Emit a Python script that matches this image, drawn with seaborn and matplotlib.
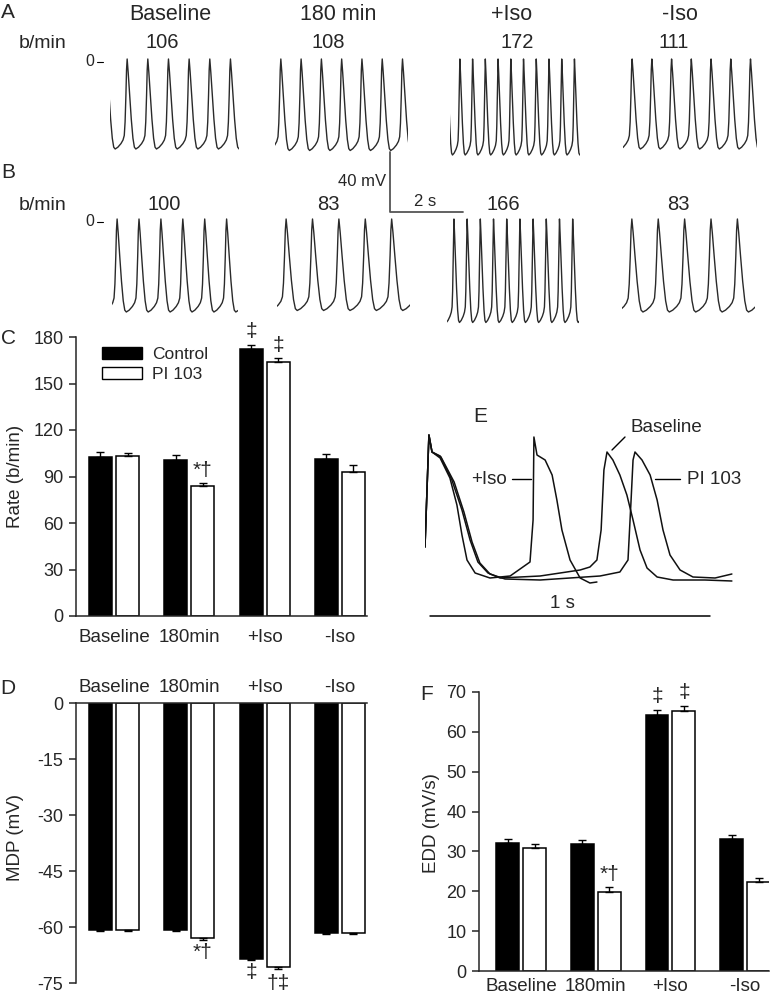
import numpy as np
import pandas as pd
import seaborn as sns
import matplotlib.pyplot as plt
from matplotlib.patches import Patch

# ---- data -------------------------------------------------------------
conditions = ["Baseline", "180min", "+Iso", "-Iso"]
groups = ["Control", "PI 103"]

# C: beating rate (b/min)
rate_ctrl = [102.7, 100.5, 172.2, 101.4]
rate_pi = [103.1, 84.0, 163.7, 93.0]
rate_ctrl_err = [3.2, 3.5, 2.4, 3.4]
rate_pi_err = [2.1, 2.0, 3.0, 4.3]

# D: maximum diastolic potential (mV)
mdp_ctrl = [-60.7, -60.9, -68.5, -61.6]
mdp_pi = [-60.7, -63.0, -70.7, -61.6]
mdp_ctrl_err = [0.3, 0.2, 0.3, 0.2]
mdp_pi_err = [0.3, 0.4, 0.6, 0.2]

# F: early diastolic depolarization (mV/s)
edd_ctrl = [32.1, 31.9, 64.2, 33.2]
edd_pi = [30.8, 19.7, 65.2, 22.3]
edd_ctrl_err = [1.1, 0.9, 1.2, 1.0]
edd_pi_err = [1.1, 1.5, 1.3, 1.0]

# A / B: spontaneous AP trains
trace_titles = ["Baseline", "180 min", "+Iso", "-Iso"]
rates_a = [106, 108, 172, 111]
rates_b = [100, 83, 166, 83]
mdp_a = [-58, -59, -62, -58]
mdp_b = [-60, -59, -67, -60]
dur_a = [3.53, 3.64, 3.56, 3.67]
dur_b = [3.45, 3.64, 3.62, 3.64]
first_peak_a = [0.47, 0.16, 0.27, 0.25]
first_peak_b = [0.14, 0.25, 0.19, 0.27]
# one AP cycle (phase from peak, 1 = peak, 0 = MDP)
ap_phase = [0.0, 0.05, 0.12, 0.2, 0.28, 0.35, 0.42, 0.55, 0.7, 0.8, 0.86, 0.9, 0.94, 0.97, 1.0]
ap_level = [1.0, 0.85, 0.6, 0.33, 0.12, 0.02, 0.0, 0.02, 0.06, 0.1, 0.15, 0.3, 0.6, 0.88, 1.0]
ap_peak = 2

# E: superimposed single APs (s, mV)
iso_t = [0.0, 0.014, 0.025, 0.054, 0.089, 0.114, 0.132, 0.15, 0.179, 0.232, 0.304, 0.375,
         0.386, 0.389, 0.4, 0.429, 0.454, 0.471, 0.489, 0.518, 0.554, 0.589, 0.614]
iso_v = [-44.5, 11.5, 3.0, 0.0, -10.0, -23.5, -38.5, -51.0, -57.5, -60.0, -59.0, -52.0,
         -31.0, 10.5, 1.5, -1.0, -8.5, -21.0, -36.0, -51.0, -60.0, -62.5, -62.0]
base_t = [0.0, 0.014, 0.025, 0.054, 0.096, 0.132, 0.161, 0.189, 0.225, 0.268, 0.411, 0.554,
          0.589, 0.614, 0.629, 0.639, 0.65, 0.671, 0.696, 0.721, 0.743, 0.768, 0.793, 0.829,
          0.886, 1.0, 1.096]
base_v = [-44.5, 11.5, 3.0, 1.0, -11.0, -26.0, -41.0, -52.0, -57.5, -60.0, -59.0, -56.0,
          -54.5, -51.0, -36.0, -6.0, 3.0, -1.0, -8.5, -18.5, -31.0, -46.0, -55.0, -59.5,
          -61.0, -61.0, -61.5]
pi_t = [0.0, 0.014, 0.025, 0.057, 0.104, 0.139, 0.168, 0.196, 0.232, 0.286, 0.411, 0.625,
        0.696, 0.725, 0.736, 0.743, 0.75, 0.775, 0.804, 0.829, 0.85, 0.875, 0.911, 0.957,
        1.036, 1.096]
pi_v = [-44.5, 11.5, 3.0, 0.5, -12.0, -27.0, -42.0, -52.5, -58.0, -60.5, -61.0, -59.0,
        -57.0, -51.0, -21.0, -1.0, 3.0, -1.0, -8.5, -21.0, -36.0, -48.5, -56.0, -59.5,
        -60.0, -58.0]

# ---- style / layout ---------------------------------------------------
sns.set_style("ticks")
plt.rcParams["font.family"] = ["Liberation Sans", "DejaVu Sans"]
plt.rcParams["axes.unicode_minus"] = False
plt.rcParams["axes.linewidth"] = 1.1

W, H = 776, 1000
PX_S, PX_MV = 36.5, 1.5
fig = plt.figure(figsize=(W / 100, H / 100), dpi=100)


def px_axes(x0, y0, x1, y1):
    return fig.add_axes([x0 / W, 1 - y1 / H, (x1 - x0) / W, (y1 - y0) / H])


def ap_train(rate, mdp, duration, first_peak):
    period = 60.0 / rate
    t, v = [], []
    for k in range(-1, int(duration / period) + 3):
        t.extend(first_peak + (k + np.array(ap_phase[:-1])) * period)
        v.extend(mdp + np.array(ap_level[:-1]) * (ap_peak - mdp))
    return np.array(t), np.array(v)


# A / B traces
row_zero = [62, 222]
row_start = [[110, 275, 450, 623], [112, 277, 447, 622]]
row_data = [(rates_a, mdp_a, dur_a, first_peak_a), (rates_b, mdp_b, dur_b, first_peak_b)]
for r, (rates, mdps, durs, fpk) in enumerate(row_data):
    for i in range(4):
        x0 = row_start[r][i]
        top = row_zero[r] - 15 * PX_MV
        tax = px_axes(x0, top, x0 + durs[i] * PX_S, top + 90 * PX_MV)
        t, v = ap_train(rates[i], mdps[i], durs[i], fpk[i])
        sns.lineplot(x=t, y=v, ax=tax, color="#2a2a2a", lw=1.0, sort=False, estimator=None)
        tax.set_xlim(0, durs[i])
        tax.set_ylim(-75, 15)
        tax.axis("off")


# bar panels
def bar_panel(ax, ctrl, pi, ctrl_err, pi_err, down=False):
    df = pd.DataFrame({"cond": conditions * 2,
                       "group": [groups[0]] * 4 + [groups[1]] * 4,
                       "value": ctrl + pi})
    sns.barplot(data=df, x="cond", y="value", hue="group", order=conditions,
                hue_order=groups, palette={"Control": "black", "PI 103": "white"},
                edgecolor="black", linewidth=1.1, width=0.72, gap=0.15, saturation=1,
                errorbar=None, legend=False, ax=ax)
    bars = []
    for cont, errs in zip(ax.containers, [ctrl_err, pi_err]):
        row = []
        for bar, e in zip(cont, errs):
            x = bar.get_x() + bar.get_width() / 2
            y = bar.get_y() + bar.get_height()
            yerr = [[e], [0]] if down else [[0], [e]]
            ax.errorbar(x, y, yerr=yerr, color="black", capsize=3, lw=1, capthick=1)
            row.append((x, y - e if down else y + e))
        bars.append(row)
    ax.set_xlabel("")
    ax.tick_params(axis="x", length=0, labelsize=13.5)
    ax.tick_params(axis="y", length=5, width=1.1, labelsize=13, pad=4)
    return bars


def mark(ax, bars, grp, cond, text, dy):
    x, y = bars[grp][conditions.index(cond)]
    ax.annotate(text, (x, y), xytext=(0, dy), textcoords="offset points",
                ha="center", va="center", fontsize=15, annotation_clip=False)


# C
axc = px_axes(76, 337, 367, 616)
bc = bar_panel(axc, rate_ctrl, rate_pi, rate_ctrl_err, rate_pi_err)
axc.set_xlim(-0.505, 3.36)
axc.set_ylim(0, 180)
axc.set_yticks(range(0, 181, 30))
axc.tick_params(axis="x", pad=9)
sns.despine(ax=axc)
axc.set_ylabel("Rate (b/min)", fontsize=13.5)
axc.yaxis.set_label_coords(-0.18, 0.5)
mark(axc, bc, 0, "+Iso", "‡", 10)
mark(axc, bc, 1, "+Iso", "‡", 9)
mark(axc, bc, 1, "180min", "*†", 9)
axc.legend(handles=[Patch(facecolor="black", edgecolor="black", label="Control"),
                    Patch(facecolor="white", edgecolor="black", label="PI 103")],
           loc="upper left", bbox_to_anchor=(0.09, 0.965), frameon=False, fontsize=12.5,
           handlelength=2.3, handleheight=0.75, handletextpad=0.55, labelspacing=0.25,
           borderpad=0, borderaxespad=0)

# D
axd = px_axes(76, 703, 367, 983)
bd = bar_panel(axd, mdp_ctrl, mdp_pi, mdp_ctrl_err, mdp_pi_err, down=True)
axd.set_xlim(-0.505, 3.36)
axd.set_ylim(-75, 0)
axd.set_yticks(range(-75, 1, 15))
axd.xaxis.tick_top()
axd.tick_params(axis="x", pad=5)
sns.despine(ax=axd, top=False, bottom=True)
axd.set_ylabel("MDP (mV)", fontsize=13.5)
axd.yaxis.set_label_coords(-0.18, 0.52)
mark(axd, bd, 1, "180min", "*†", -9)
mark(axd, bd, 0, "+Iso", "‡", -9)
mark(axd, bd, 1, "+Iso", "†‡", -10)

# F
axf = px_axes(479, 692, 769, 971)
bf = bar_panel(axf, edd_ctrl, edd_pi, edd_ctrl_err, edd_pi_err)
axf.set_xlim(-0.565, 3.32)
axf.set_ylim(0, 70)
axf.set_yticks(range(0, 71, 10))
axf.tick_params(axis="x", pad=5)
sns.despine(ax=axf)
axf.set_ylabel("EDD (mV/s)", fontsize=13.5)
axf.yaxis.set_label_coords(-0.135, 0.53)
mark(axf, bf, 0, "+Iso", "‡", 10)
mark(axf, bf, 1, "+Iso", "‡", 10)
mark(axf, bf, 1, "180min", "*†", 9)

# E
axe = px_axes(425, 420, 735, 625)
for tt, vv in [(iso_t, iso_v), (base_t, base_v), (pi_t, pi_v)]:
    sns.lineplot(x=tt, y=vv, ax=axe, color="#111111", lw=1.1, sort=False, estimator=None)
axe.plot([0.018, 1.018], [-79, -79], color="black", lw=1.1)
axe.set_xlim(0, 310 / 280)
axe.set_ylim(-83.5, 19)
axe.axis("off")

# ---- overlay text ----------------------------------------------------
ov = fig.add_axes([0, 0, 1, 1])
ov.set_xlim(0, W)
ov.set_ylim(H, 0)
ov.axis("off")

for lab, x, y in [("A", 8, 12), ("B", 8, 172), ("C", 8, 338), ("D", 8, 688),
                  ("E", 480, 416), ("F", 427, 695)]:
    ov.text(x, y, lab, fontsize=15, ha="center", va="center")

for title, x in zip(trace_titles, [170, 338, 512, 680]):
    ov.text(x, 14, title, fontsize=15.5, ha="center", va="center")

for r, (rates, xs, yy) in enumerate([(rates_a, [162, 328, 517, 674], 43),
                                      (rates_b, [164, 328, 503, 678], 205)]):
    ov.text(43, yy, "b/min", fontsize=14, ha="center", va="center")
    for val, x in zip(rates, xs):
        ov.text(x, yy, str(val), fontsize=14.5, ha="center", va="center")
    ov.text(90, row_zero[r], "0", fontsize=11.5, ha="center", va="center")
    ov.plot([97, 103], [row_zero[r], row_zero[r]], color="black", lw=0.8)

# A/B scale bar: 40 mV and 2 s
ov.plot([390, 390, 390 + 2 * PX_S], [212 - 40 * PX_MV, 212, 212], color="#555555", lw=1.3)
ov.text(386, 181, "40 mV", fontsize=12, ha="right", va="center")
ov.text(425, 201, "2 s", fontsize=12, ha="center", va="center")

# E labels
ov.text(489, 479, "+Iso", fontsize=13.5, ha="center", va="center")
ov.plot([512, 531], [479, 479], color="black", lw=1)
ov.text(630, 428, "Baseline", fontsize=13.5, ha="left", va="center")
ov.plot([612, 625], [450, 437], color="black", lw=1)
ov.text(687, 479, "PI 103", fontsize=13.5, ha="left", va="center")
ov.plot([655, 680], [479, 479], color="black", lw=1)
ov.text(562, 603, "1 s", fontsize=13.5, ha="center", va="center")

fig.savefig("out.png", dpi=100)
